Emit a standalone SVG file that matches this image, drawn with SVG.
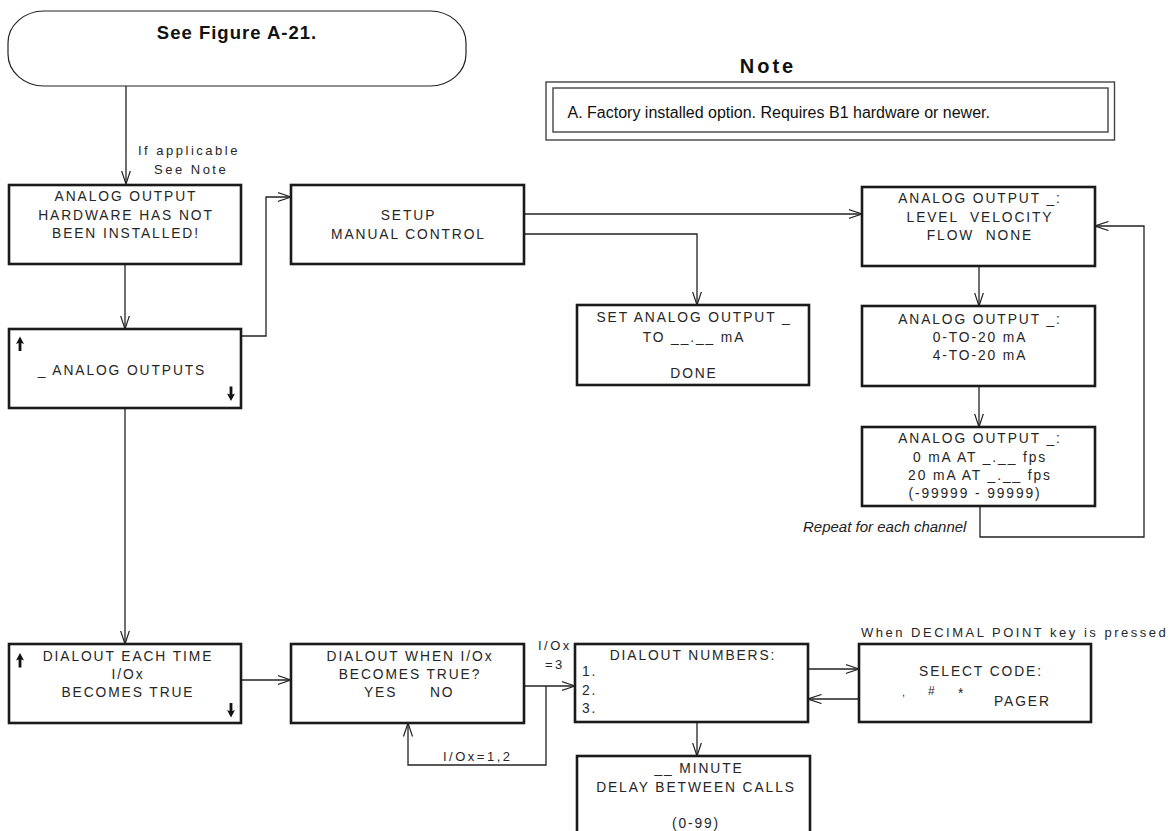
<svg xmlns="http://www.w3.org/2000/svg" width="1173" height="831" viewBox="0 0 1173 831">
<style>
.box{fill:#fff;stroke:#1a1a1a;stroke-width:2.6}
.pill{fill:#fff;stroke:#222;stroke-width:1.2}
.nbox{fill:none;stroke:#444;stroke-width:1.4}
.t{font-family:"Liberation Sans",Arial,sans-serif;font-size:13.8px;letter-spacing:1.9px;fill:#262626;text-anchor:middle}
.s{text-anchor:start}
.lbl{font-family:"Liberation Sans",Arial,sans-serif;font-size:13px;letter-spacing:2.5px;fill:#262626}
.conn{fill:none;stroke:#222;stroke-width:1.3;marker-end:url(#ah)}
.ud{fill:#111}
</style>
<defs>
<marker id="ah" viewBox="0 0 14 10" refX="13.5" refY="5" markerWidth="14" markerHeight="10" markerUnits="userSpaceOnUse" orient="auto">
<path d="M0,0.5 L13.5,5 L0,9.5" fill="none" stroke="#222" stroke-width="1.2"/>
</marker>
<path id="up" class="ud" d="M0,0 L4,7.5 L1.4,6.6 L1.4,14.5 L-1.4,14.5 L-1.4,6.6 L-4,7.5 Z"/>
</defs>

<g id="connectors">
<path class="conn" d="M126,86 V184"/>
<path class="conn" d="M125,264 V329"/>
<path class="conn" d="M241,336 H266 V197 H291"/>
<path class="conn" d="M524,214 H862"/>
<path class="conn" d="M524,234 H697 V305"/>
<path class="conn" d="M979,266 V306"/>
<path class="conn" d="M979,386 V427"/>
<path class="conn" d="M980,506 V537 H1144 V226 H1095"/>
<path class="conn" d="M125,408 V644"/>
<path class="conn" d="M241,680 H291"/>
<path class="conn" d="M524,686 H575"/>
<path class="conn" d="M546,686 V765 H408 V723"/>
<path class="conn" d="M808,669 H859"/>
<path class="conn" d="M859,699 H808"/>
<path class="conn" d="M697,722 V756"/>
<text class="lbl" x="138" y="155">If applicable</text>
<text class="lbl" x="154" y="174">See Note</text>
<text x="803" y="531.5" style="font-family:'Liberation Sans',Arial,sans-serif;font-size:15px;font-style:italic;fill:#222">Repeat for each channel</text>
<text class="lbl" x="538" y="650">I/Ox</text>
<text class="lbl" x="545" y="669">=3</text>
<text class="lbl" x="443" y="761">I/Ox=1,2</text>
<text class="lbl" x="861" y="637">When DECIMAL POINT key is pressed</text>
</g>

<g id="start">
<rect class="pill" x="8" y="11" width="458" height="75" rx="36" ry="32"/>
<text x="237" y="39" style="font-family:'Liberation Sans',Arial,sans-serif;font-size:18.5px;font-weight:bold;letter-spacing:1px;fill:#111;text-anchor:middle">See Figure A-21.</text>
</g>

<g id="note">
<text x="768" y="73" style="font-family:'Liberation Sans',Arial,sans-serif;font-size:20px;font-weight:bold;letter-spacing:3px;fill:#111;text-anchor:middle">Note</text>
<rect class="nbox" x="546" y="82" width="568.5" height="58"/>
<rect class="nbox" x="553" y="88" width="555" height="44"/>
<text x="567.5" y="117.5" style="font-family:'Liberation Sans',Arial,sans-serif;font-size:16px;fill:#111">A. Factory installed option. Requires B1 hardware or newer.</text>
</g>

<g id="hw-not-installed">
<rect class="box" x="9" y="185" width="232" height="79"/>
<text class="t" x="126" y="201">ANALOG OUTPUT</text>
<text class="t" x="126" y="219.5">HARDWARE HAS NOT</text>
<text class="t" x="126" y="238">BEEN INSTALLED!</text>
</g>

<g id="analog-outputs">
<rect class="box" x="9" y="329" width="232" height="79"/>
<use href="#up" x="20" y="336.5"/>
<use href="#up" transform="translate(231,401) rotate(180)"/>
<text class="t" x="122" y="374.5">_ ANALOG OUTPUTS</text>
</g>

<g id="setup">
<rect class="box" x="291" y="185" width="233" height="79"/>
<text class="t" x="408.5" y="219.5">SETUP</text>
<text class="t" x="408.5" y="239">MANUAL CONTROL</text>
</g>

<g id="set-analog">
<rect class="box" x="577" y="305" width="232" height="80"/>
<text class="t" x="694" y="322.3">SET ANALOG OUTPUT _</text>
<text class="t" x="694" y="341.7">TO __.__ mA</text>
<text class="t" x="694" y="377.7">DONE</text>
</g>

<g id="ao-type">
<rect class="box" x="862" y="187" width="233" height="79"/>
<text class="t" x="980" y="203.3">ANALOG OUTPUT _:</text>
<text class="t" x="980" y="221.7" xml:space="preserve">LEVEL  VELOCITY</text>
<text class="t" x="980" y="240" xml:space="preserve">FLOW  NONE</text>
</g>

<g id="ao-range">
<rect class="box" x="862" y="306" width="233" height="80"/>
<text class="t" x="980" y="324.3">ANALOG OUTPUT _:</text>
<text class="t" x="980" y="341.7">0-TO-20 mA</text>
<text class="t" x="980" y="360">4-TO-20 mA</text>
</g>

<g id="ao-scale">
<rect class="box" x="862" y="427" width="233" height="79"/>
<text class="t" x="980" y="443.3">ANALOG OUTPUT _:</text>
<text class="t" x="980" y="461.7">0 mA AT _.__ fps</text>
<text class="t" x="980" y="480">20 mA AT _.__ fps</text>
<text class="t" x="975" y="498.3">(-99999 - 99999)</text>
</g>

<g id="dialout-each">
<rect class="box" x="9" y="644" width="232" height="79"/>
<use href="#up" x="20" y="653"/>
<use href="#up" transform="translate(231,717.5) rotate(180)"/>
<text class="t" x="128" y="660.7">DIALOUT EACH TIME</text>
<text class="t" x="128" y="679.3">I/Ox</text>
<text class="t" x="128" y="697.3">BECOMES TRUE</text>
</g>

<g id="dialout-when">
<rect class="box" x="291" y="644" width="233" height="79"/>
<text class="t" x="410" y="660.7">DIALOUT WHEN I/Ox</text>
<text class="t" x="410" y="679.3">BECOMES TRUE?</text>
<text class="t s" x="364" y="697.3">YES</text>
<text class="t s" x="430" y="697.3">NO</text>
</g>

<g id="dialout-numbers">
<rect class="box" x="575" y="644" width="233" height="78"/>
<text class="t" x="693" y="660">DIALOUT NUMBERS:</text>
<text class="t s" x="582" y="676">1.</text>
<text class="t s" x="582" y="695">2.</text>
<text class="t s" x="582" y="713">3.</text>
</g>

<g id="select-code">
<rect class="box" x="859" y="644" width="232" height="78"/>
<text class="t" x="981" y="676">SELECT CODE:</text>
<text class="t s" x="902" y="696" style="font-size:11px">,</text>
<text class="t s" x="928" y="695" style="font-size:12px">#</text>
<text class="t s" x="958" y="697.5">*</text>
<text class="t s" x="994" y="706">PAGER</text>
</g>

<g id="delay">
<rect class="box" x="577" y="756" width="233" height="95"/>
<text class="t" x="699" y="773.3">__ MINUTE</text>
<text class="t" x="696" y="791.7">DELAY BETWEEN CALLS</text>
<text class="t" x="696" y="828">(0-99)</text>
</g>
</svg>
